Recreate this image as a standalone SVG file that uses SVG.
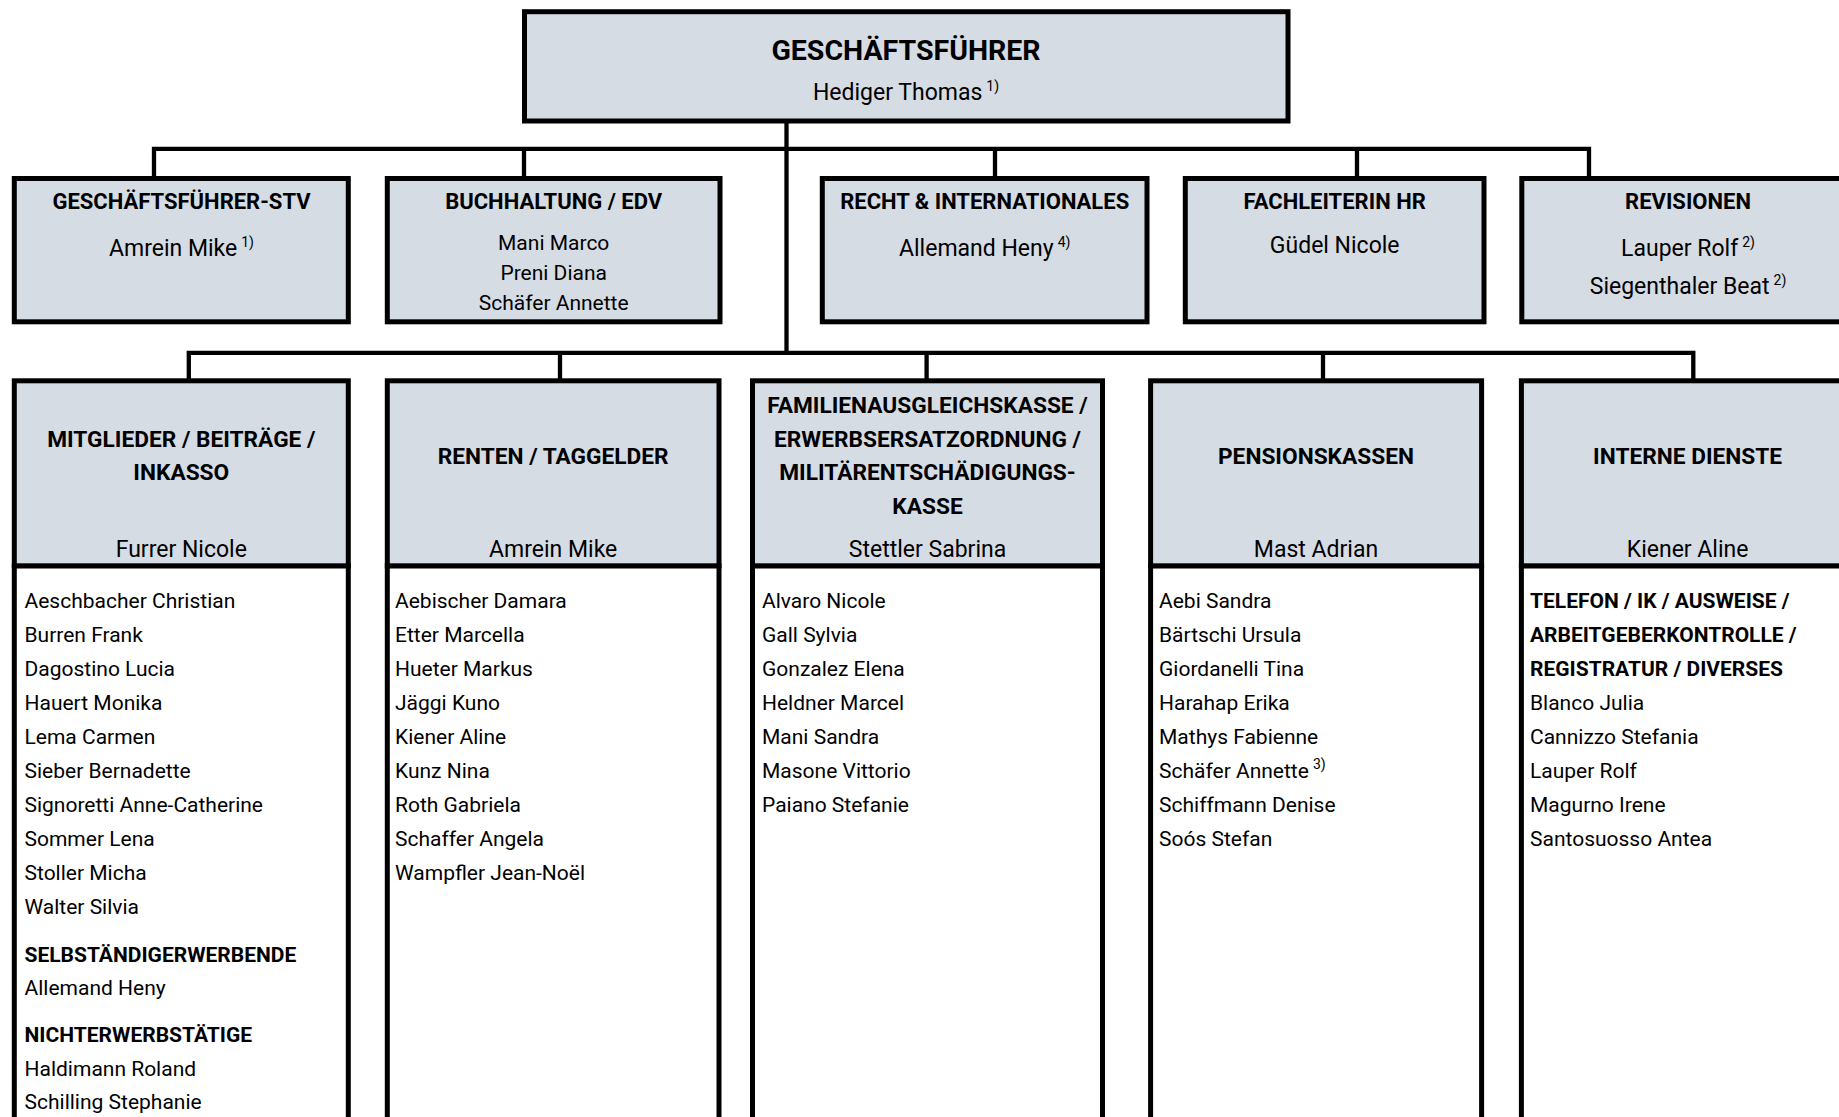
<svg xmlns="http://www.w3.org/2000/svg" width="1839" height="1117" viewBox="0 0 1839 1117">
<style>
text{font-family:Roboto,"Liberation Sans",sans-serif;fill:#000}
.hd{fill:#D6DCE4;stroke:#000;stroke-width:5}
.bd{fill:#fff;stroke:#000;stroke-width:5}
.conn{fill:none;stroke:#000;stroke-width:4.3;stroke-linejoin:miter}
.t1{font-size:28.5px;font-weight:700;text-anchor:middle}
.h{font-size:22.7px;font-weight:700;text-anchor:middle}
.h1{font-size:22px;font-weight:700;text-anchor:middle}
.n{font-size:23px;text-anchor:middle}
.s{font-size:21px;text-anchor:middle}
.l{font-size:21px}
.lb{font-size:21px;font-weight:700}
.sup{font-size:14px}
</style>
<rect width="1839" height="1117" fill="#fff"/>
<g id="connectors">
<path class="conn" d="M786.5 121 V352.8"/>
<path class="conn" d="M154 178.5 V148.8 H1589 V178.5"/>
<path class="conn" d="M524 148.8 V178.5 M995 148.8 V178.5 M1357 148.8 V178.5"/>
<path class="conn" d="M188.8 380.8 V352.8 H1693.3 V380.8"/>
<path class="conn" d="M560 352.8 V380.8 M926.6 352.8 V380.8 M1323 352.8 V380.8"/>
</g>
<g id="gf">
<rect class="hd" x="524.5" y="11.7" width="763.5" height="109.3"/>
<text class="t1" x="906" y="60">GESCHÄFTSFÜHRER</text>
<text class="n" x="906" y="99.5">Hediger Thomas<tspan class="sup" dx="4" dy="-9">1)</tspan></text>
</g>
<g id="gf-stv">
<rect class="hd" x="14.3" y="178.5" width="334" height="143.3"/>
<text class="h1" x="181.5" y="208.5">GESCHÄFTSFÜHRER-STV</text>
<text class="n" x="181.5" y="255.5">Amrein Mike<tspan class="sup" dx="4" dy="-9">1)</tspan></text>
</g>
<g id="buchhaltung">
<rect class="hd" x="387.3" y="178.5" width="332.7" height="143.3"/>
<text class="h1" x="553.7" y="208.5">BUCHHALTUNG / EDV</text>
<text class="s" x="553.7" y="250">Mani Marco</text>
<text class="s" x="553.7" y="280">Preni Diana</text>
<text class="s" x="553.7" y="310">Schäfer Annette</text>
</g>
<g id="recht">
<rect class="hd" x="822.3" y="178.5" width="324.7" height="143.3"/>
<text class="h1" x="984.7" y="208.5">RECHT &amp; INTERNATIONALES</text>
<text class="n" x="984.7" y="255.5">Allemand Heny<tspan class="sup" dx="4" dy="-9">4)</tspan></text>
</g>
<g id="hr">
<rect class="hd" x="1185.3" y="178.5" width="298.7" height="143.3"/>
<text class="h1" x="1334.7" y="208.5">FACHLEITERIN HR</text>
<text class="n" x="1334.7" y="252.5">Güdel Nicole</text>
</g>
<g id="revisionen">
<rect class="hd" x="1521.8" y="178.5" width="340" height="143.3"/>
<text class="h1" x="1688" y="208.5">REVISIONEN</text>
<text class="n" x="1688" y="255.5">Lauper Rolf<tspan class="sup" dx="4" dy="-9">2)</tspan></text>
<text class="n" x="1688" y="294">Siegenthaler Beat<tspan class="sup" dx="4" dy="-9">2)</tspan></text>
</g>
<g id="mitglieder">
<rect class="bd" x="14.3" y="565.8" width="334" height="600"/>
<rect class="hd" x="14.3" y="380.8" width="334" height="185"/>
<text class="h" x="181.3" y="446.5">MITGLIEDER / BEITRÄGE /</text>
<text class="h" x="181.3" y="480">INKASSO</text>
<text class="n" x="181.3" y="556.5">Furrer Nicole</text>
<text class="l" x="24.5" y="607.5">Aeschbacher Christian</text>
<text class="l" x="24.5" y="641.6">Burren Frank</text>
<text class="l" x="24.5" y="675.7">Dagostino Lucia</text>
<text class="l" x="24.5" y="709.8">Hauert Monika</text>
<text class="l" x="24.5" y="743.9">Lema Carmen</text>
<text class="l" x="24.5" y="778">Sieber Bernadette</text>
<text class="l" x="24.5" y="812.1">Signoretti Anne-Catherine</text>
<text class="l" x="24.5" y="846.2">Sommer Lena</text>
<text class="l" x="24.5" y="880.3">Stoller Micha</text>
<text class="l" x="24.5" y="914.4">Walter Silvia</text>
<text class="lb" x="24.5" y="961.5">SELBSTÄNDIGERWERBENDE</text>
<text class="l" x="24.5" y="995">Allemand Heny</text>
<text class="lb" x="24.5" y="1042">NICHTERWERBSTÄTIGE</text>
<text class="l" x="24.5" y="1075.5">Haldimann Roland</text>
<text class="l" x="24.5" y="1109">Schilling Stephanie</text>
</g>
<g id="renten">
<rect class="bd" x="387.3" y="565.8" width="331.7" height="600"/>
<rect class="hd" x="387.3" y="380.8" width="331.7" height="185"/>
<text class="h" x="553.2" y="463.5">RENTEN / TAGGELDER</text>
<text class="n" x="553.2" y="556.5">Amrein Mike</text>
<text class="l" x="395" y="607.5">Aebischer Damara</text>
<text class="l" x="395" y="641.6">Etter Marcella</text>
<text class="l" x="395" y="675.7">Hueter Markus</text>
<text class="l" x="395" y="709.8">Jäggi Kuno</text>
<text class="l" x="395" y="743.9">Kiener Aline</text>
<text class="l" x="395" y="778">Kunz Nina</text>
<text class="l" x="395" y="812.1">Roth Gabriela</text>
<text class="l" x="395" y="846.2">Schaffer Angela</text>
<text class="l" x="395" y="880.3">Wampfler Jean-Noël</text>
</g>
<g id="familienausgleichskasse">
<rect class="bd" x="752.5" y="565.8" width="350" height="600"/>
<rect class="hd" x="752.5" y="380.8" width="350" height="185"/>
<text class="h" x="927.5" y="412.5">FAMILIENAUSGLEICHSKASSE /</text>
<text class="h" x="927.5" y="446.5">ERWERBSERSATZORDNUNG /</text>
<text class="h" x="927.5" y="480">MILITÄRENTSCHÄDIGUNGS-</text>
<text class="h" x="927.5" y="513.5">KASSE</text>
<text class="n" x="927.5" y="556.5">Stettler Sabrina</text>
<text class="l" x="762" y="607.5">Alvaro Nicole</text>
<text class="l" x="762" y="641.6">Gall Sylvia</text>
<text class="l" x="762" y="675.7">Gonzalez Elena</text>
<text class="l" x="762" y="709.8">Heldner Marcel</text>
<text class="l" x="762" y="743.9">Mani Sandra</text>
<text class="l" x="762" y="778">Masone Vittorio</text>
<text class="l" x="762" y="812.1">Paiano Stefanie</text>
</g>
<g id="pensionskassen">
<rect class="bd" x="1150.6" y="565.8" width="331" height="600"/>
<rect class="hd" x="1150.6" y="380.8" width="331" height="185"/>
<text class="h" x="1316" y="463.5">PENSIONSKASSEN</text>
<text class="n" x="1316" y="556.5">Mast Adrian</text>
<text class="l" x="1159" y="607.5">Aebi Sandra</text>
<text class="l" x="1159" y="641.6">Bärtschi Ursula</text>
<text class="l" x="1159" y="675.7">Giordanelli Tina</text>
<text class="l" x="1159" y="709.8">Harahap Erika</text>
<text class="l" x="1159" y="743.9">Mathys Fabienne</text>
<text class="l" x="1159" y="778">Schäfer Annette<tspan class="sup" dx="4" dy="-9">3)</tspan></text>
<text class="l" x="1159" y="812.1">Schiffmann Denise</text>
<text class="l" x="1159" y="846.2">Soós Stefan</text>
</g>
<g id="interne-dienste">
<rect class="bd" x="1521.4" y="565.8" width="340" height="600"/>
<rect class="hd" x="1521.4" y="380.8" width="340" height="185"/>
<text class="h" x="1687.6" y="463.5">INTERNE DIENSTE</text>
<text class="n" x="1687.6" y="556.5">Kiener Aline</text>
<text class="lb" x="1530" y="607.5">TELEFON / IK / AUSWEISE /</text>
<text class="lb" x="1530" y="641.6">ARBEITGEBERKONTROLLE /</text>
<text class="lb" x="1530" y="675.7">REGISTRATUR / DIVERSES</text>
<text class="l" x="1530" y="709.8">Blanco Julia</text>
<text class="l" x="1530" y="743.9">Cannizzo Stefania</text>
<text class="l" x="1530" y="778">Lauper Rolf</text>
<text class="l" x="1530" y="812.1">Magurno Irene</text>
<text class="l" x="1530" y="846.2">Santosuosso Antea</text>
</g>
</svg>
